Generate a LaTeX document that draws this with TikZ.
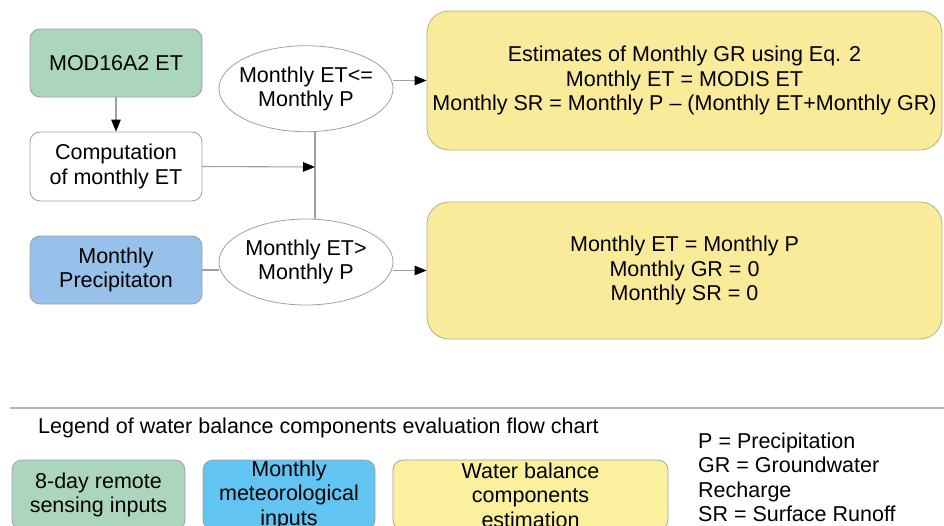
\documentclass[tikz,border=0pt]{standalone}
\usepackage{fontspec}
\setmainfont{Liberation Sans}
\usetikzlibrary{arrows.meta,shapes.geometric}
\definecolor{gfill}{RGB}{171,214,189}
\definecolor{bfill}{RGB}{151,193,234}
\definecolor{yfill}{RGB}{249,235,153}
\definecolor{lbfill}{RGB}{98,196,240}
\definecolor{lyfill}{RGB}{250,240,158}
\definecolor{edgec}{RGB}{160,160,160}
\definecolor{linec}{RGB}{160,160,160}
\tikzset{
  txt/.style={font=\fontsize{21.5}{24.5}\selectfont, align=center, text=black, inner sep=0pt},
  sbox/.style={txt, draw=edgec, line width=0.8pt, rounded corners=10pt, minimum width=172pt},
  ybox/.style={txt, draw=edgec!80!yellow, line width=0.8pt, rounded corners=22pt, fill=yfill, minimum width=515pt},
  oval/.style={txt, draw=edgec, line width=0.8pt, ellipse, inner xsep=-7pt, minimum width=174pt, minimum height=86pt, fill=white},
  conn/.style={draw=linec, line width=1.1pt},
  arr/.style={conn, -{Triangle[length=12pt,width=9.5pt,black]}},
}
\begin{document}
\begin{tikzpicture}[x=1pt,y=-1pt]
\useasboundingbox (0,0) rectangle (944,525);
\fill[white] (0,0) rectangle (944,525);
\clip (0,0) rectangle (944,525);
% main flow
\node[sbox, fill=gfill, minimum height=68pt] (mod) at (116,63) {MOD16A2 ET};
\node[sbox, fill=white, minimum height=69pt] (comp) at (116,166.5) {Computation\\of monthly ET};
\node[sbox, fill=bfill, minimum height=68pt] (prec) at (116,270) {Monthly\\Precipitaton};
\node[oval] (e1) at (306,88.7) {Monthly ET<=\\Monthly P};
\node[oval] (e2) at (306,262) {Monthly ET>\\Monthly P};
\node[ybox, minimum height=139pt] (r1) at (684.5,80.5) {Estimates of Monthly GR using Eq. 2\\Monthly ET = MODIS ET\\Monthly SR = Monthly P – (Monthly ET+Monthly GR)};
\node[ybox, minimum height=137pt] (r2) at (684.5,270.5) {Monthly ET = Monthly P\\Monthly GR = 0\\Monthly SR = 0};
\coordinate (j) at (315,167);
\draw[arr] (mod.south) -- (comp.north);
\draw[conn] (e1.south -| j) -- (e2.north -| j);
\draw[arr] (comp.east) -- (j);
\draw[conn] (prec.east) -- (prec.east -| e2.west);
\draw[arr] (e1.east |- r1.west) -- (r1.west);
\draw[arr] (e2.east |- r2.west) -- (r2.west);
% legend
\coordinate (sepL) at (10,408);
\coordinate (sepR) at (944,408);
\draw[draw=edgec!80, line width=1.3pt] (sepL) -- (sepR);
\node[txt, anchor=west] (lt) at (38,428) {Legend of water balance components evaluation flow chart};
\node[sbox, fill=gfill, minimum width=173pt, minimum height=70pt] (l1) at (98.5,495) {8-day remote\\sensing inputs};
\node[sbox, fill=lbfill, minimum width=172pt, minimum height=70pt] (l2) at (289,495) {Monthly\\meteorological\\inputs};
\node[sbox, fill=lyfill, minimum width=275pt, minimum height=70pt] (l3) at (530.5,495) {Water balance\\components\\estimation};
\node[txt, align=left, anchor=north west] (abbr) at (698,432.5) {P = Precipitation\\GR = Groundwater\\Recharge\\SR = Surface Runoff};
\end{tikzpicture}
\end{document}
